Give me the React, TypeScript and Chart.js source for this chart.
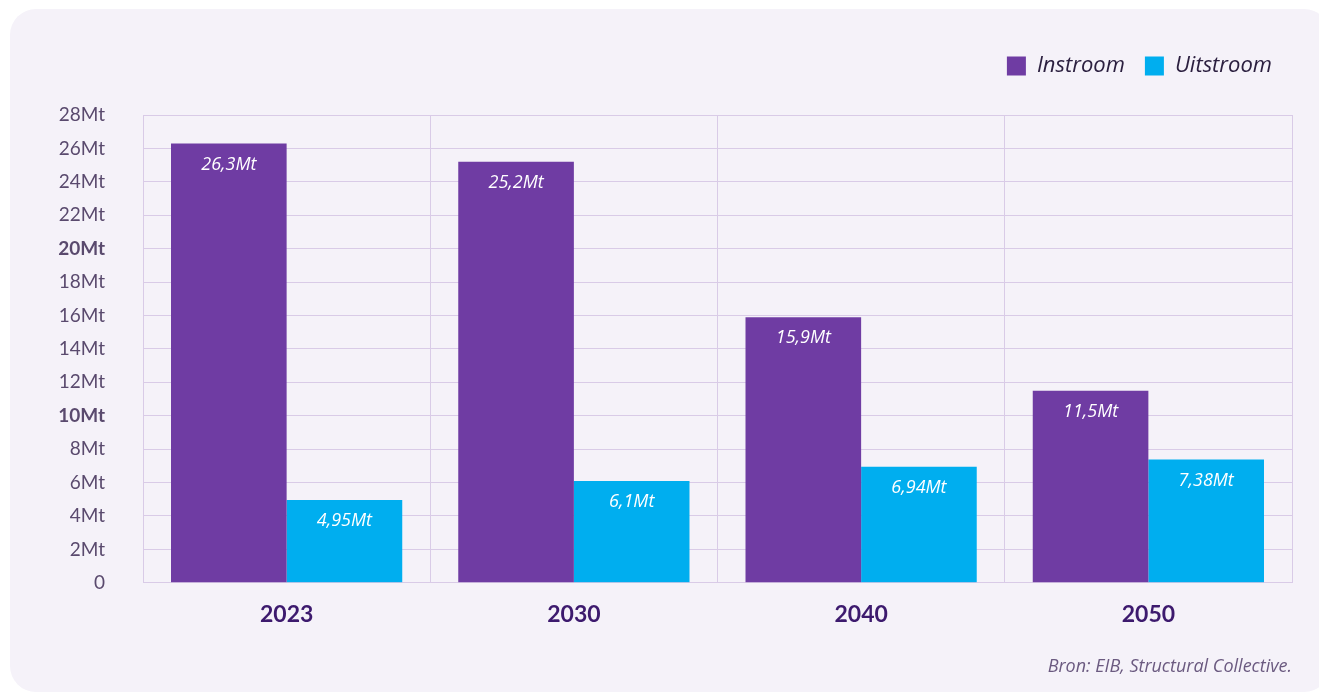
import React, { useEffect, useRef } from "react";
import { Chart, registerables } from "chart.js";

Chart.register(...registerables);

const categories = ["2023", "2030", "2040", "2050"];
const instroom = [26.3, 25.2, 15.9, 11.5];
const uitstroom = [4.95, 6.1, 6.94, 7.38];
const seriesNames = ["Instroom", "Uitstroom"];
const sourceText = "Bron: EIB, Structural Collective.";

const FONT = "Lato, 'Open Sans', sans-serif";
const FONT2 = "'Open Sans', Lato, sans-serif";
const GRID = "#d9cbe7";

const fmt = (v: number) => String(v).replace(".", ",") + "Mt";

const valueLabels = {
  id: "valueLabels",
  afterDatasetsDraw(chart: any) {
    const ctx = chart.ctx;
    ctx.save();
    ctx.fillStyle = "#ffffff";
    ctx.font = `italic 18px ${FONT2}`;
    ctx.textAlign = "center";
    ctx.textBaseline = "middle";
    chart.data.datasets.forEach((ds: any, i: number) => {
      const meta = chart.getDatasetMeta(i);
      meta.data.forEach((el: any, j: number) => {
        ctx.fillText(fmt(ds.data[j]), el.x, el.y + 21);
      });
    });
    ctx.restore();
  },
};

const legendSpace = {
  id: "legendSpace",
  afterInit(chart: any) {
    const lg = chart.legend;
    if (lg && !lg.__patched) {
      const orig = lg.fit;
      lg.fit = function () {
        orig.call(this);
        this.height += 28;
      };
      lg.__patched = true;
    }
  },
};

export default function App() {
  const ref = useRef<HTMLCanvasElement>(null);
  useEffect(() => {
    document.body.style.margin = "0";
    const chart = new Chart(ref.current!, {
      type: "bar",
      data: {
        labels: categories,
        datasets: [
          {
            label: seriesNames[0],
            data: instroom,
            backgroundColor: "#6f3ca3",
            categoryPercentage: 0.805,
            barPercentage: 1.0,
          },
          {
            label: seriesNames[1],
            data: uitstroom,
            backgroundColor: "#00aeef",
            categoryPercentage: 0.805,
            barPercentage: 1.0,
          },
        ],
      },
      options: {
        animation: false,
        responsive: false,
        maintainAspectRatio: false,
        layout: { padding: { top: 35, left: 43, right: 27, bottom: 17 } },
        plugins: {
          tooltip: { enabled: false },
          legend: {
            position: "top",
            align: "end",
            labels: {
              boxWidth: 19,
              boxHeight: 19,
              padding: 20,
              color: "#2c2040",
              font: { family: FONT2, size: 22, style: "italic" },
            },
          },
          subtitle: {
            display: true,
            text: sourceText,
            position: "bottom",
            align: "end",
            color: "#6b5a80",
            font: { family: FONT2, size: 18, style: "italic", weight: "normal" },
            padding: { top: 10, bottom: 0 },
          },
        },
        scales: {
          x: {
            grid: { color: GRID, drawTicks: false, offset: true, lineWidth: 1 },
            border: { color: GRID },
            ticks: {
              color: "#3d1a6e",
              padding: 18,
              font: { family: FONT, size: 23, weight: "bold" },
            },
          },
          y: {
            min: 0,
            max: 28,
            afterFit(scale: any) {
              scale.width = 100;
            },
            grid: { color: GRID, drawTicks: false },
            border: { color: GRID },
            ticks: {
              stepSize: 2,
              padding: 38,
              color: "#5a4a6e",
              callback: (v: any) => (v === 0 ? "0" : v + "Mt"),
              font: (c: any) => ({
                family: FONT,
                size: 19,
                weight: c.tick && c.tick.value !== 0 && c.tick.value % 10 === 0 ? "bold" : "normal",
              }),
            },
          },
        },
      },
      plugins: [valueLabels, legendSpace],
    });
    return () => chart.destroy();
  }, []);

  return (
    <div style={{ position: "relative", width: 1319, height: 695, background: "#ffffff", overflow: "hidden" }}>
      <div
        style={{
          position: "absolute",
          left: 10,
          top: 9,
          width: 1320,
          height: 683,
          borderRadius: 26,
          background: "#f5f2f9",
        }}
      />
      <canvas ref={ref} width={1319} height={695} style={{ position: "absolute", left: 0, top: 0 }} />
    </div>
  );
}
